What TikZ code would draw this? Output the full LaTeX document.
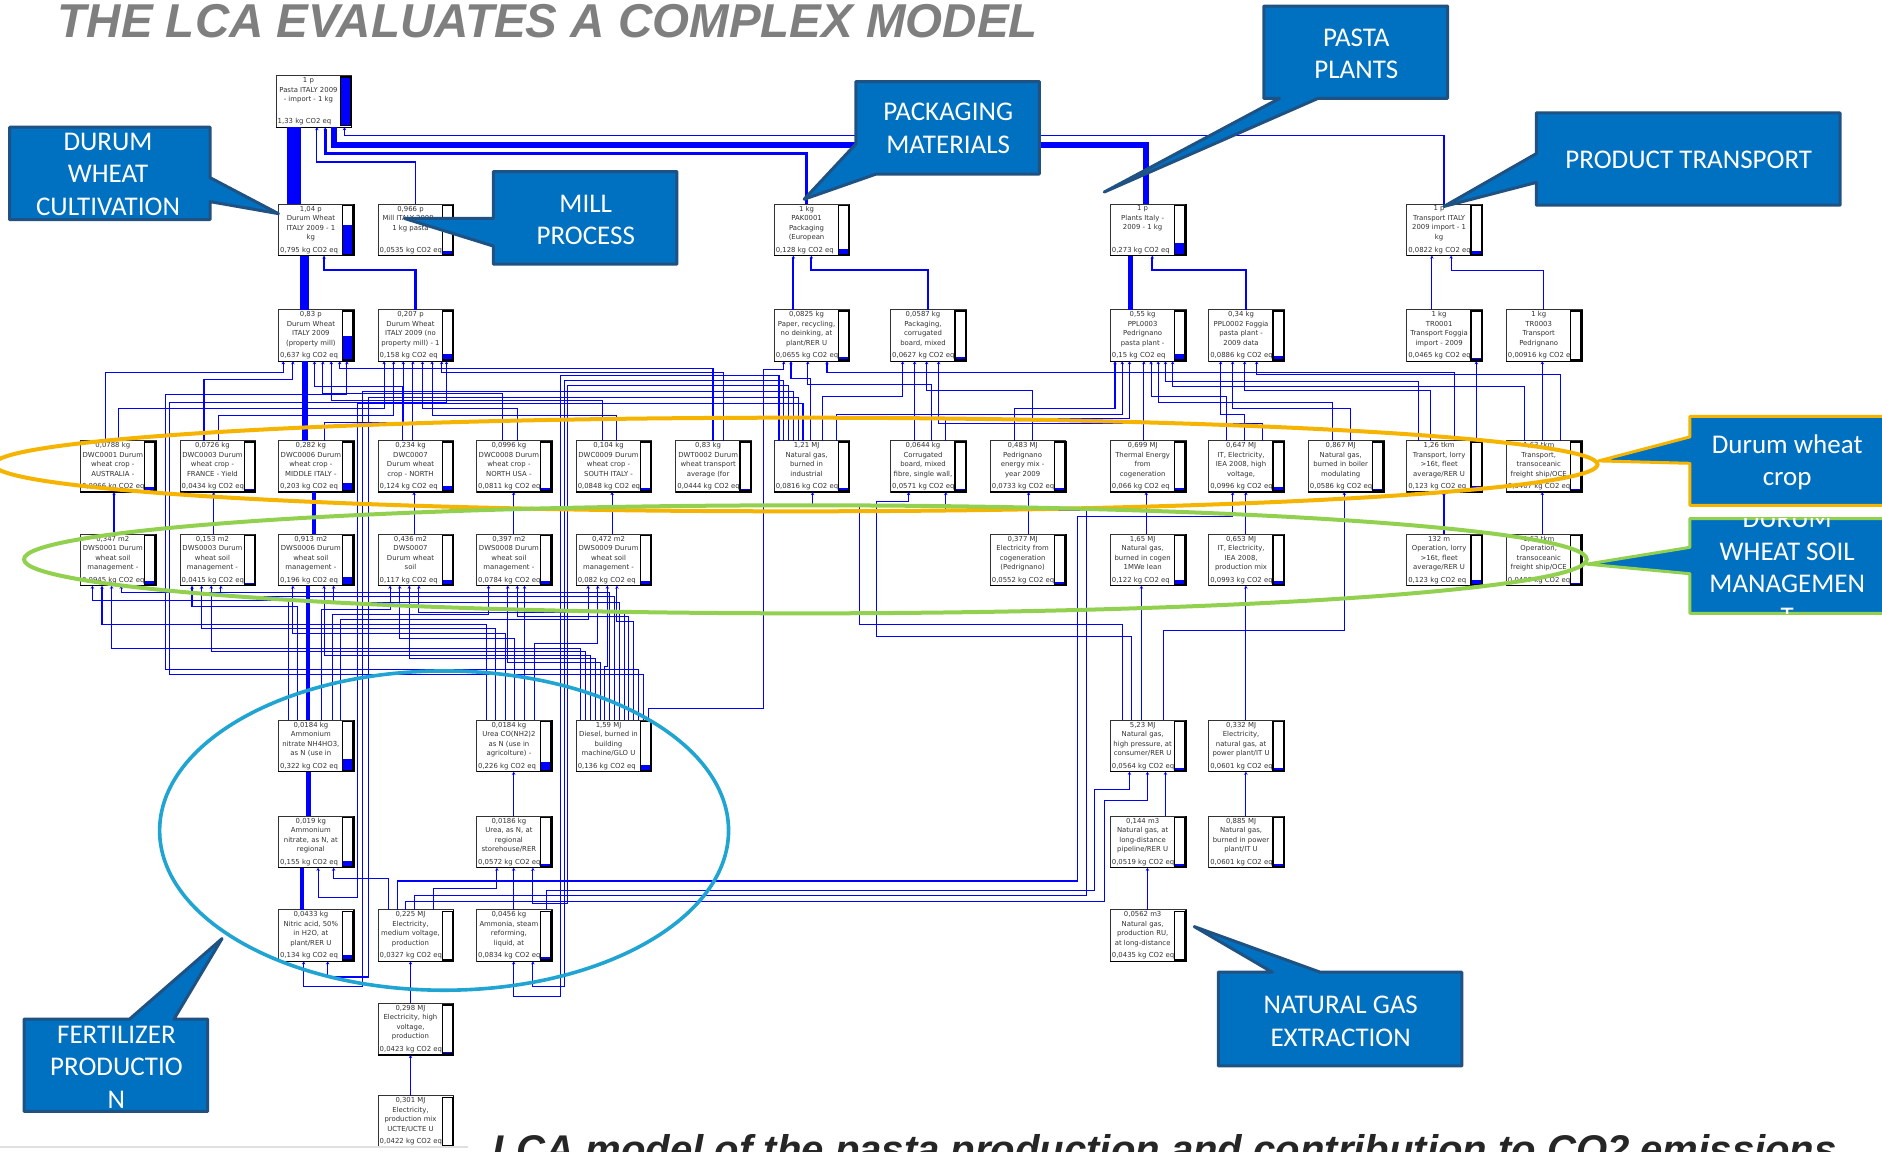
\documentclass[tikz,border=0pt]{standalone}
\usepackage{fontspec}
\setmainfont{DejaVu Sans}
\newfontfamily\calfont{Carlito}
\newfontfamily\arialfont{Liberation Sans}
\usetikzlibrary{calc,arrows.meta}
\definecolor{pblue}{RGB}{0,0,255}
\definecolor{calblue}{RGB}{0,112,192}
\definecolor{calborder}{RGB}{31,82,130}
\definecolor{orng}{RGB}{245,180,0}
\definecolor{lgreen}{RGB}{146,208,80}
\definecolor{cyanel}{RGB}{32,164,210}
\definecolor{titlegray}{RGB}{127,127,127}
\tikzset{
 lbox/.style={draw=black!80, line width=0.7pt, fill=white, minimum width=75.6pt, minimum height=51.6pt, inner sep=0pt, outer sep=0pt, anchor=north west},
 ltop/.style={anchor=north, align=center, inner sep=0pt, font=\fontsize{6.9}{9.5}\selectfont, text=black!80},
 lbot/.style={anchor=south west, inner sep=0pt, font=\fontsize{6.9}{7.5}\selectfont, text=black!80},
 flow/.style={draw=pblue, line width=1.1pt, -{Stealth[length=3pt,width=3.4pt]}},
 callout/.style={fill=calblue, draw=calborder, line width=3pt, line join=round},
 ctext/.style={text=white, align=center, inner sep=0pt, font=\calfont\fontsize{27}{32.4}\selectfont},
}
% box: name, left x, top y, fill fraction, top text, bottom text
\newcommand\lcabox[6]{%
  \node[lbox] (#1) at (#2,#3) {};
  \node[ltop] (#1-t) at ($(#1.north west)+(27,1.4)$) {#5};
  \node[lbot] (#1-b) at ($(#1.south west)+(1.2,-1.6)$) {#6};
  \fill[white] ($(#1.north east)+(-9.5,1.2)$) rectangle ($(#1.south east)+(-0.8,-1.2)$);
  \fill[pblue] ($(#1.south east)+(-9.5,-1.2)$) rectangle ($(#1.south east)+(-0.8,{-1.2-40.6*#4})$);
  \draw[line width=1.4pt] ($(#1.north east)+(-9.5,1.2)$) rectangle ($(#1.south east)+(-0.8,-1.2)$);
  \draw[line width=1.4pt] (#1.north east) -- (#1.south east) -- (#1.south west);
}
% vertical connector: child, xoff, parent
\newcommand\vkto[4][]{\draw[flow,#1] ($(#2.north west)+(#3,0)$) coordinate (tmpv) -- (tmpv |- #4.south);}
% three-segment connector: child, xoffc, parent, xoffp, level below parent bottom
\newcommand\lkto[6][]{\draw[flow,#1] ($(#2.north west)+(#3,0)$) |- ($(#4.south west)+(#5,#6)$) -- ($(#4.south west)+(#5,0)$);}
% five-segment connector: child, xoffc, bendx, bendy, parent, xoffp, level below parent bottom
\newcommand\lroute[8][]{\draw[flow,#1] ($(#2.north west)+(#3,0)$) |- (#4,#5) |- ($(#6.south west)+(#7,#8)$) -- ($(#6.south west)+(#7,0)$);}

\begin{document}
\begin{tikzpicture}[x=1.2pt,y=-1.2pt]
\useasboundingbox (0,0) rectangle (1568,959);
\clip (0,0) rectangle (1568,959);
\fill[white] (0,0) rectangle (1568,959);

% ---------------- boxes ----------------
\lcabox{pasta}{230}{63}{1}{1 p\\Pasta ITALY 2009\\- import - 1 kg}{1,33 kg CO2 eq}
\lcabox{dw}{232}{170}{0.6}{1,04 p\\Durum Wheat\\ITALY 2009 - 1\\kg}{0,795 kg CO2 eq}
\lcabox{mill}{315}{170}{0.06}{0,966 p\\Mill ITALY 2009 -\\1 kg pasta}{0,0535 kg CO2 eq}
\lcabox{pak}{645}{170}{0.1}{1 kg\\PAK0001\\Packaging\\(European}{0,128 kg CO2 eq}
\lcabox{plants}{925}{170}{0.22}{1 p\\Plants Italy -\\2009 - 1 kg}{0,273 kg CO2 eq}
\lcabox{trit}{1172}{170}{0.06}{1 p\\Transport ITALY\\2009 import - 1\\kg}{0,0822 kg CO2 eq}

\lcabox{dwp}{232}{258}{0.48}{0,83 p\\Durum Wheat\\ITALY 2009\\(property mill)}{0,637 kg CO2 eq}
\lcabox{dwn}{315}{258}{0.12}{0,207 p\\Durum Wheat\\ITALY 2009 (no\\property mill) - 1}{0,158 kg CO2 eq}
\lcabox{paper}{645}{258}{0.05}{0,0825 kg\\Paper, recycling,\\no deinking, at\\plant/RER U}{0,0655 kg CO2 eq}
\lcabox{packc}{742}{258}{0.05}{0,0587 kg\\Packaging,\\corrugated\\board, mixed}{0,0627 kg CO2 eq}
\lcabox{ppl3}{925}{258}{0.11}{0,55 kg\\PPL0003\\Pedrignano\\pasta plant -}{0,15 kg CO2 eq}
\lcabox{ppl2}{1007}{258}{0.07}{0,34 kg\\PPL0002 Foggia\\pasta plant -\\2009 data}{0,0886 kg CO2 eq}
\lcabox{tr1}{1172}{258}{0.035}{1 kg\\TR0001\\Transport Foggia\\import - 2009}{0,0465 kg CO2 eq}
\lcabox{tr3}{1255}{258}{0}{1 kg\\TR0003\\Transport\\Pedrignano}{0,00916 kg CO2 eq}

\lcabox{dwc1}{67}{367}{0.07}{0,0788 kg\\DWC0001 Durum\\wheat crop -\\AUSTRALIA -}{0,0966 kg CO2 eq}
\lcabox{dwc3}{150}{367}{0.03}{0,0726 kg\\DWC0003 Durum\\wheat crop -\\FRANCE - Yield}{0,0434 kg CO2 eq}
\lcabox{dwc6}{232}{367}{0.15}{0,282 kg\\DWC0006 Durum\\wheat crop -\\MIDDLE ITALY -}{0,203 kg CO2 eq}
\lcabox{dwc7}{315}{367}{0.09}{0,234 kg\\DWC0007\\Durum wheat\\crop - NORTH}{0,124 kg CO2 eq}
\lcabox{dwc8}{397}{367}{0.06}{0,0996 kg\\DWC0008 Durum\\wheat crop -\\NORTH USA -}{0,0811 kg CO2 eq}
\lcabox{dwc9}{480}{367}{0.06}{0,104 kg\\DWC0009 Durum\\wheat crop -\\SOUTH ITALY -}{0,0848 kg CO2 eq}
\lcabox{dwt2}{563}{367}{0.03}{0,83 kg\\DWT0002 Durum\\wheat transport\\average (for}{0,0444 kg CO2 eq}
\lcabox{ngi}{645}{367}{0.06}{1,21 MJ\\Natural gas,\\burned in\\industrial}{0,0816 kg CO2 eq}
\lcabox{corr}{742}{367}{0.04}{0,0644 kg\\Corrugated\\board, mixed\\fibre, single wall,}{0,0571 kg CO2 eq}
\lcabox{pen}{825}{367}{0.06}{0,483 MJ\\Pedrignano\\energy mix -\\year 2009}{0,0733 kg CO2 eq}
\lcabox{therm}{925}{367}{0.05}{0,699 MJ\\Thermal Energy\\from\\cogeneration}{0,066 kg CO2 eq}
\lcabox{itel}{1007}{367}{0.07}{0,647 MJ\\IT, Electricity,\\IEA 2008, high\\voltage,}{0,0996 kg CO2 eq}
\lcabox{ngb}{1090}{367}{0.04}{0,867 MJ\\Natural gas,\\burned in boiler\\modulating}{0,0586 kg CO2 eq}
\lcabox{lorry}{1172}{367}{0.09}{1,26 tkm\\Transport, lorry\\>16t, fleet\\average/RER U}{0,123 kg CO2 eq}
\lcabox{ship}{1255}{367}{0.03}{1,63 tkm\\Transport,\\transoceanic\\freight ship/OCE}{0,0407 kg CO2 eq}

\lcabox{dws1}{67}{445}{0.07}{0,347 m2\\DWS0001 Durum\\wheat soil\\management -}{0,0945 kg CO2 eq}
\lcabox{dws3}{150}{445}{0.03}{0,153 m2\\DWS0003 Durum\\wheat soil\\management -}{0,0415 kg CO2 eq}
\lcabox{dws6}{232}{445}{0.15}{0,913 m2\\DWS0006 Durum\\wheat soil\\management -}{0,196 kg CO2 eq}
\lcabox{dws7}{315}{445}{0.09}{0,436 m2\\DWS0007\\Durum wheat\\soil}{0,117 kg CO2 eq}
\lcabox{dws8}{397}{445}{0.06}{0,397 m2\\DWS0008 Durum\\wheat soil\\management -}{0,0784 kg CO2 eq}
\lcabox{dws9}{480}{445}{0.06}{0,472 m2\\DWS0009 Durum\\wheat soil\\management -}{0,082 kg CO2 eq}
\lcabox{elco}{825}{445}{0.04}{0,377 MJ\\Electricity from\\cogeneration\\(Pedrignano)}{0,0552 kg CO2 eq}
\lcabox{ngc}{925}{445}{0.09}{1,65 MJ\\Natural gas,\\burned in cogen\\1MWe lean}{0,122 kg CO2 eq}
\lcabox{itmix}{1007}{445}{0.07}{0,653 MJ\\IT, Electricity,\\IEA 2008,\\production mix}{0,0993 kg CO2 eq}
\lcabox{oplorry}{1172}{445}{0.09}{132 m\\Operation, lorry\\>16t, fleet\\average/RER U}{0,123 kg CO2 eq}
\lcabox{opship}{1255}{445}{0.03}{1,63 tkm\\Operation,\\transoceanic\\freight ship/OCE}{0,0407 kg CO2 eq}

\lcabox{amn}{232}{600}{0.24}{0,0184 kg\\Ammonium\\nitrate NH4HO3,\\as N (use in}{0,322 kg CO2 eq}
\lcabox{urea}{397}{600}{0.17}{0,0184 kg\\Urea CO(NH2)2\\as N (use in\\agricolture) -}{0,226 kg CO2 eq}
\lcabox{diesel}{480}{600}{0.1}{1,59 MJ\\Diesel, burned in\\building\\machine/GLO U}{0,136 kg CO2 eq}
\lcabox{nghp}{925}{600}{0.04}{5,23 MJ\\Natural gas,\\high pressure, at\\consumer/RER U}{0,0564 kg CO2 eq}
\lcabox{elng}{1007}{600}{0.045}{0,332 MJ\\Electricity,\\natural gas, at\\power plant/IT U}{0,0601 kg CO2 eq}

\lcabox{amn2}{232}{680}{0.12}{0,019 kg\\Ammonium\\nitrate, as N, at\\regional}{0,155 kg CO2 eq}
\lcabox{urea2}{397}{680}{0.04}{0,0186 kg\\Urea, as N, at\\regional\\storehouse/RER}{0,0572 kg CO2 eq}
\lcabox{ngld}{925}{680}{0.04}{0,144 m3\\Natural gas, at\\long-distance\\pipeline/RER U}{0,0519 kg CO2 eq}
\lcabox{ngpp}{1007}{680}{0.045}{0,885 MJ\\Natural gas,\\burned in power\\plant/IT U}{0,0601 kg CO2 eq}

\lcabox{nitric}{232}{758}{0.1}{0,0433 kg\\Nitric acid, 50\%\\in H2O, at\\plant/RER U}{0,134 kg CO2 eq}
\lcabox{elmv}{315}{758}{0.025}{0,225 MJ\\Electricity,\\medium voltage,\\production}{0,0327 kg CO2 eq}
\lcabox{ammonia}{397}{758}{0.06}{0,0456 kg\\Ammonia, steam\\reforming,\\liquid, at}{0,0834 kg CO2 eq}
\lcabox{ngru}{925}{758}{0.03}{0,0562 m3\\Natural gas,\\production RU,\\at long-distance}{0,0435 kg CO2 eq}

\lcabox{elhv}{315}{836}{0.03}{0,298 MJ\\Electricity, high\\voltage,\\production}{0,0423 kg CO2 eq}
\lcabox{elmix}{315}{913}{0.03}{0,301 MJ\\Electricity,\\production mix\\UCTE/UCTE U}{0,0422 kg CO2 eq}

% ---------------- connectors: top levels ----------------
\vkto[line width=14pt,-]{dw}{13}{pasta}
\lkto{mill}{31}{pasta}{34}{29}
\lkto[line width=2.6pt]{pak}{27}{pasta}{41}{22}
\lkto[line width=6pt,-]{plants}{30}{pasta}{48}{15}
\lkto[line width=1.6pt]{trit}{31}{pasta}{57}{7}

\vkto[line width=9pt,-]{dwp}{22}{dw}
\lkto[line width=2.6pt]{dwn}{31}{dw}{38}{12}
\vkto[line width=2pt]{paper}{16}{pak}
\lkto[line width=2pt]{packc}{31}{pak}{31}{12}
\vkto[line width=4.5pt,-]{ppl3}{17}{plants}
\lkto[line width=2pt]{ppl2}{31}{plants}{35}{12}
\vkto{tr1}{21}{trit}
\lkto{tr3}{31}{trit}{37}{12}

% ---------------- row C -> row D (left) ----------------
\lkto{dwc1}{21}{dwp}{4}{9}
\lkto{dwc3}{20}{dwp}{12}{15}
\vkto[line width=6pt,-]{dwc6}{22}{dwp}
\lkto{dwc7}{20}{dwp}{30}{21}
\lkto{dwc8}{22}{dwp}{37}{27}
\lkto{dwc9}{22}{dwp}{44}{33}
\lkto{dwt2}{31}{dwp}{51}{6}
\lkto{dwc1}{32}{dwn}{5}{39}
\lkto{dwc3}{32}{dwn}{13}{45}
\lkto{dwc6}{38}{dwn}{21}{51}
\vkto{dwc7}{29}{dwn}
\lkto{dwc8}{34}{dwn}{37}{39}
\lkto{dwc9}{34}{dwn}{45}{45}
\lkto{dwt2}{40}{dwn}{53}{9}

% ---------------- row D <- row E (left) ----------------
\vkto{dws1}{28}{dwc1}
\vkto{dws3}{28}{dwc3}
\vkto[line width=4pt,-]{dws6}{30}{dwc6}
\vkto{dws7}{30}{dwc7}
\vkto{dws8}{31}{dwc8}
\vkto{dws9}{30}{dwc9}

% ---------------- fertiliser / diesel bus ----------------
\lkto{amn}{8}{dws1}{10}{12}
\lkto{amn}{16}{dws3}{10}{17}
\vkto[line width=4pt,-]{amn}{25}{dws6}
\lkto{amn}{36}{dws7}{10}{20}
\lkto{amn}{45}{dws8}{10}{24}
\lkto{amn}{52}{dws9}{10}{28}
\lkto{urea}{8}{dws1}{18}{32}
\lkto{urea}{16}{dws3}{18}{36}
\lkto{urea}{24}{dws6}{12}{40}
\lkto{urea}{32}{dws7}{18}{44}
\vkto{urea}{40}{dws8}
\lkto{urea}{48}{dws9}{18}{48}
\lkto{diesel}{4}{dws1}{26}{52}
\lkto{diesel}{8}{dws3}{26}{55}
\lkto{diesel}{12}{dws6}{38}{58}
\lkto{diesel}{16}{dws7}{26}{61}
\lkto{diesel}{20}{dws8}{26}{64}
\lkto{diesel}{24}{dws9}{26}{67}
\lkto{diesel}{28}{dws1}{34}{6}
\lkto{diesel}{32}{dws3}{34}{9}
\lkto{diesel}{36}{dws6}{46}{14}
\lkto{diesel}{40}{dws7}{34}{22}
\lkto{diesel}{44}{dws8}{34}{26}
\lkto{diesel}{48}{dws9}{34}{30}
\lroute{diesel}{52}{138}{558}{dwp}{57}{28}
\lroute{diesel}{56}{141}{562}{dwn}{57}{34}
\lroute{diesel}{60}{636}{590}{paper}{8}{7}

% ---------------- long routes to the fertiliser area ----------------
\lroute{ngi}{4}{467}{313}{ammonia}{31}{29}
\lroute{ngi}{8}{470}{317}{ammonia}{47}{21}
\lroute{ngi}{12}{473}{321}{urea2}{47}{30}
\lroute{ngi}{16}{302}{326}{nitric}{21}{21}
\lroute{ngi}{20}{307}{331}{nitric}{41}{13}
\lroute{ngi}{24}{298}{336}{amn2}{33}{25}

\vkto[line width=4.5pt,-]{amn2}{25}{amn}
\vkto[line width=4pt,-]{nitric}{20}{amn2}
\vkto{urea2}{31}{urea}
\vkto{ammonia}{31}{urea2}
\lkto{elmv}{9}{amn2}{46}{9}
\lkto{elmv}{46}{urea2}{17}{17}
\vkto{elhv}{27}{elmv}
\vkto{elmix}{27}{elhv}

% ---------------- right cluster: row C <- row D ----------------
\lkto{ngi}{30}{paper}{14}{14}
\lkto{ngi}{40}{packc}{10}{29}
\lkto{ngi}{52}{ppl3}{10}{44}
\vkto{corr}{20}{packc}
\lkto{corr}{34}{paper}{28}{19}
\lkto{corr}{46}{ppl3}{16}{48}
\lkto{pen}{20}{ppl3}{4}{39}
\lkto{pen}{35}{packc}{30}{24}
\vkto{therm}{28}{ppl3}
\lkto{itel}{15}{ppl3}{34}{29}
\lkto{itel}{30}{ppl2}{10}{44}
\lkto{itel}{45}{packc}{40}{52}
\lkto{ngb}{20}{ppl3}{40}{34}
\lkto{ngb}{35}{ppl2}{20}{39}
\lkto{lorry}{10}{ppl3}{46}{17}
\lkto{lorry}{20}{ppl2}{30}{24}
\lkto{lorry}{40}{paper}{44}{9}
\vkto{lorry}{58}{tr1}
\lkto{ship}{15}{ppl3}{52}{21}
\vkto{ship}{30}{tr3}
\lkto{ship}{45}{ppl2}{40}{11}

% ---------------- right cluster: lower rows ----------------
\vkto{elco}{32}{pen}
\vkto{ngc}{30}{therm}
\vkto{itmix}{31}{itel}
\vkto[line width=2pt]{oplorry}{31}{lorry}
\vkto{opship}{30}{ship}
\vkto{nghp}{26}{ngc}
\vkto{elng}{31}{itmix}
\vkto{ngpp}{31}{elng}
\vkto{ngld}{46}{nghp}
\vkto{ngru}{31}{ngld}
\lroute{nghp}{10}{716}{520}{ngi}{32}{10}
\lroute{nghp}{18}{730}{530}{corr}{15}{8}
\lkto{nghp}{44}{ngb}{30}{115}
\lroute{ammonia}{58}{912}{742}{nghp}{16}{15}
\lroute{elmv}{23}{920}{751}{nghp}{31}{24}
\lroute{elmv}{30}{905}{746}{corr}{46}{15}
\lroute{elmv}{16}{898}{734}{itel}{20}{20}

% ---------------- ellipses ----------------
\draw[orng, line width=4pt] (663,387) ellipse [x radius=801.6pt, y radius=46.8pt];
\draw[lgreen, line width=4pt] (671,466) ellipse [x radius=781.2pt, y radius=54pt];
\draw[cyanel, line width=3.6pt] (370,692) ellipse [x radius=284.4pt, y radius=159.6pt];

% ---------------- callouts ----------------
\draw[callout] (8,106) -- (175,106) -- (175,148) -- (232,178) -- (175,168) -- (175,183) -- (8,183) -- cycle;
\node[ctext] (c-dwc) at (90,145) {DURUM\\WHEAT\\CULTIVATION};
\draw[callout] (411,143) -- (564,143) -- (564,220) -- (411,220) -- (411,205) -- (337,182) -- (411,182) -- cycle;
\node[ctext] (c-mill) at (488,183) {MILL\\PROCESS};
\draw[callout] (713,68) -- (866,68) -- (866,145) -- (730,145) -- (670,166) -- (713,120) -- cycle;
\node[ctext] (c-pack) at (790,107) {PACKAGING\\MATERIALS};
\draw[callout] (1053,5) -- (1206,5) -- (1206,82) -- (1098,82) -- (920,160) -- (1066,82) -- (1053,82) -- cycle;
\node[ctext] (c-plants) at (1130,45) {PASTA\\PLANTS};
\draw[callout] (1280,94) -- (1533,94) -- (1533,171) -- (1280,171) -- (1280,152) -- (1203,172) -- (1280,128) -- cycle;
\node[ctext] (c-trans) at (1407,133) {PRODUCT TRANSPORT};
\draw[callout, draw=orng] (1408,347) -- (1585,347) -- (1585,421) -- (1408,421) -- (1408,386) -- (1332,384) -- (1408,364) -- cycle;
\node[ctext] (c-crop) at (1489,385) {Durum wheat\\crop};
\draw[callout, draw=lgreen] (1408,432) -- (1585,432) -- (1585,511) -- (1408,511) -- (1408,478) -- (1322,470) -- (1408,456) -- cycle;
\begin{scope}
\clip (1408,432) rectangle (1585,511);
\node[ctext] (c-soil) at (1489,473) {DURUM\\WHEAT SOIL\\MANAGEMEN\\T};
\end{scope}
\draw[callout] (20,849) -- (108,849) -- (185,782) -- (145,849) -- (173,849) -- (173,926) -- (20,926) -- cycle;
\node[ctext] (c-fert) at (97,889) {FERTILIZER\\PRODUCTIO\\N};
\draw[callout] (1015,810) -- (1060,810) -- (995,772) -- (1100,810) -- (1218,810) -- (1218,888) -- (1015,888) -- cycle;
\node[ctext] (c-gas) at (1117,851) {NATURAL GAS\\EXTRACTION};

% ---------------- title and caption ----------------
\node[anchor=base west, inner sep=0pt, text=titlegray] (title) at (48,31)
  {\arialfont\bfseries\itshape\fontsize{47.5}{47.5}\selectfont THE LCA EVALUATES A COMPLEX MODEL};
\draw[black!12, line width=2pt] (0,956) -- (390,956);
\node[anchor=base west, inner sep=0pt, text=black!85] (caption) at (410,969)
  {\resizebox{1344pt}{!}{\arialfont\bfseries\itshape\fontsize{38}{38}\selectfont LCA model of the pasta production and contribution to CO2 emissions}};
\end{tikzpicture}
\end{document}
